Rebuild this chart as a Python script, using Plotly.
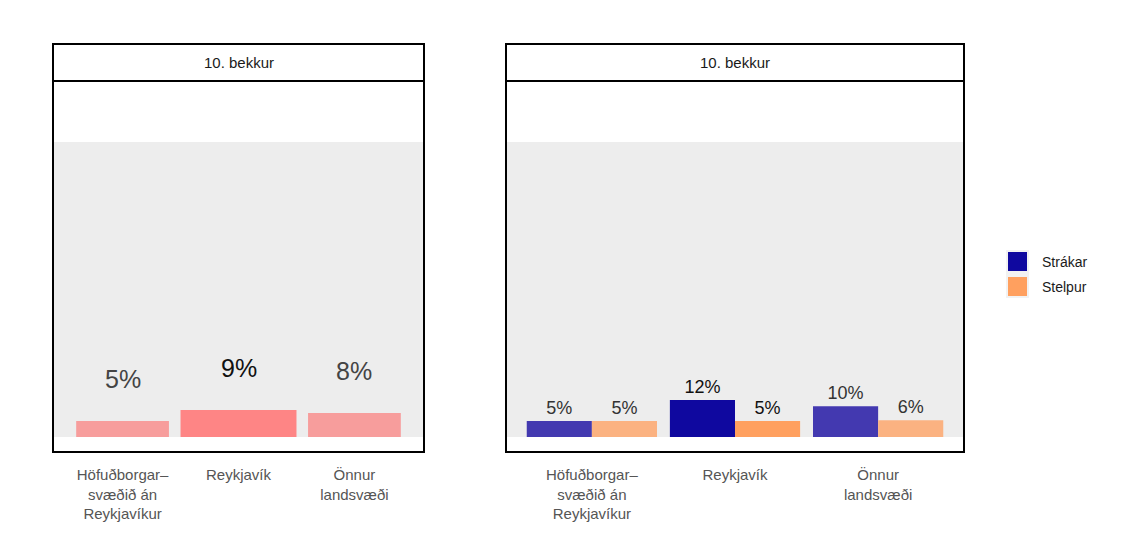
import plotly.graph_objects as go

# Data
regions = ["Höfuðborgarsvæðið án Reykjavíkur", "Reykjavík", "Önnur landsvæði"]
region_ticks = ["Höfuðborgar–<br>svæðið án<br>Reykjavíkur", "Reykjavík", "Önnur<br>landsvæði"]
facet = "10. bekkur"

total = [0.054, 0.091, 0.081]
strakar = [0.054, 0.125, 0.104]
stelpur = [0.054, 0.054, 0.057]

series_names = ["Strákar", "Stelpur"]

# Colours: Reykjavík highlighted, others lighter
total_colors = ["#F79D9C", "#FE8585", "#F79D9C"]
strakar_colors = ["#4339B0", "#0F089F", "#4339B0"]
stelpur_colors = ["#FBB281", "#FFA05F", "#FBB281"]
total_text_colors = ["#444444", "#111111", "#444444"]
group_text_colors = ["#333333", "#111111", "#333333"]

# the page puts the figure 8px in from the window edge
OFF = 8
W, H = 1134 - 2 * OFF, 549 - 2 * OFF


def px_x(x):
    return (x - OFF) / W


def px_y(y):
    return 1 - (y - OFF) / H


FONT = "Liberation Sans, Arial, sans-serif"

fig = go.Figure()

# left panel: total
fig.add_trace(go.Bar(
    x=regions, y=total, width=[0.8, 1.0, 0.8],
    marker=dict(color=total_colors, line=dict(width=0)),
    xaxis="x", yaxis="y", showlegend=False, hoverinfo="skip",
))

# right panel: by gender
for name, vals, cols in [(series_names[0], strakar, strakar_colors), (series_names[1], stelpur, stelpur_colors)]:
    fig.add_trace(go.Bar(
        x=regions, y=vals, name=name,
        marker=dict(color=cols, line=dict(width=0)),
        text=[f"{round(v * 100)}%" for v in vals],
        textposition="outside",
        textfont=dict(size=18, color=group_text_colors, family=FONT),
        cliponaxis=False,
        xaxis="x2", yaxis="y2", showlegend=False, hoverinfo="skip",
    ))

annotations = []
for r, v, c in zip(regions, total, total_text_colors):
    annotations.append(dict(
        x=r, y=v, xref="x", yref="y", text=f"{round(v * 100)}%",
        showarrow=False, yshift=42, font=dict(size=25, color=c, family=FONT),
    ))

shapes = []

panel_y0, panel_y1 = px_y(452), px_y(81)
strip_top = px_y(44)
yrange = [-0.051, 1.207]

for xa, ya, (xl, xr) in [("x", "y", (53, 424)), ("x2", "y2", (506, 964))]:
    shapes.append(dict(type="rect", xref=f"{xa} domain", yref=ya, x0=0, x1=1, y0=0, y1=1,
                       fillcolor="#EDEDED", line=dict(width=0), layer="below"))
    shapes.append(dict(type="rect", xref="paper", yref="paper", x0=px_x(xl), x1=px_x(xr),
                       y0=panel_y0, y1=panel_y1, line=dict(color="black", width=2),
                       fillcolor="rgba(0,0,0,0)", layer="above"))
    shapes.append(dict(type="rect", xref="paper", yref="paper", x0=px_x(xl), x1=px_x(xr),
                       y0=panel_y1, y1=strip_top, line=dict(color="black", width=2),
                       fillcolor="white", layer="above"))
    annotations.append(dict(x=(px_x(xl) + px_x(xr)) / 2, y=(panel_y1 + strip_top) / 2,
                            xref="paper", yref="paper", text=facet, showarrow=False,
                            xanchor="center", yanchor="middle",
                            font=dict(size=15, color="#1a1a1a", family=FONT)))

# manual legend
leg_x0, leg_y0 = 1006, 250
shapes.append(dict(type="rect", xref="paper", yref="paper", x0=px_x(leg_x0), x1=px_x(leg_x0 + 23),
                   y0=px_y(leg_y0 + 48), y1=px_y(leg_y0), fillcolor="#F2F2F2", line=dict(width=0)))
for i, (name, col) in enumerate([(series_names[0], strakar_colors[1]), (series_names[1], stelpur_colors[1])]):
    top = leg_y0 + 2 + i * 25
    shapes.append(dict(type="rect", xref="paper", yref="paper", x0=px_x(leg_x0 + 2), x1=px_x(leg_x0 + 21),
                       y0=px_y(top + 19), y1=px_y(top), fillcolor=col, line=dict(width=0)))
    annotations.append(dict(x=px_x(leg_x0 + 34), y=px_y(top + 10), xref="paper", yref="paper",
                            text=name, showarrow=False, xanchor="left", yanchor="middle",
                            font=dict(size=14, color="#1a1a1a", family=FONT)))

axis_common = dict(
    type="category", range=[-0.6, 2.6], showgrid=False, zeroline=False, showline=False,
    ticks="", tickvals=regions, ticktext=region_ticks,
    tickfont=dict(size=15, color="#555555", family=FONT), ticklabelstandoff=12,
)
yaxis_common = dict(range=yrange, showgrid=False, zeroline=False, showticklabels=False,
                    ticks="", showline=False, domain=[panel_y0, panel_y1])

fig.update_layout(
    margin=dict(l=0, r=0, t=0, b=0),
    paper_bgcolor="white",
    plot_bgcolor="white",
    barmode="group",
    bargap=0.09,
    bargroupgap=0,
    font=dict(family=FONT),
    xaxis=dict(domain=[px_x(53), px_x(424)], anchor="y", **axis_common),
    yaxis=dict(anchor="x", **yaxis_common),
    xaxis2=dict(domain=[px_x(506), px_x(964)], anchor="y2", **axis_common),
    yaxis2=dict(anchor="x2", **yaxis_common),
    shapes=shapes,
    annotations=annotations,
    showlegend=False,
)

fig.write_html("out.html")
